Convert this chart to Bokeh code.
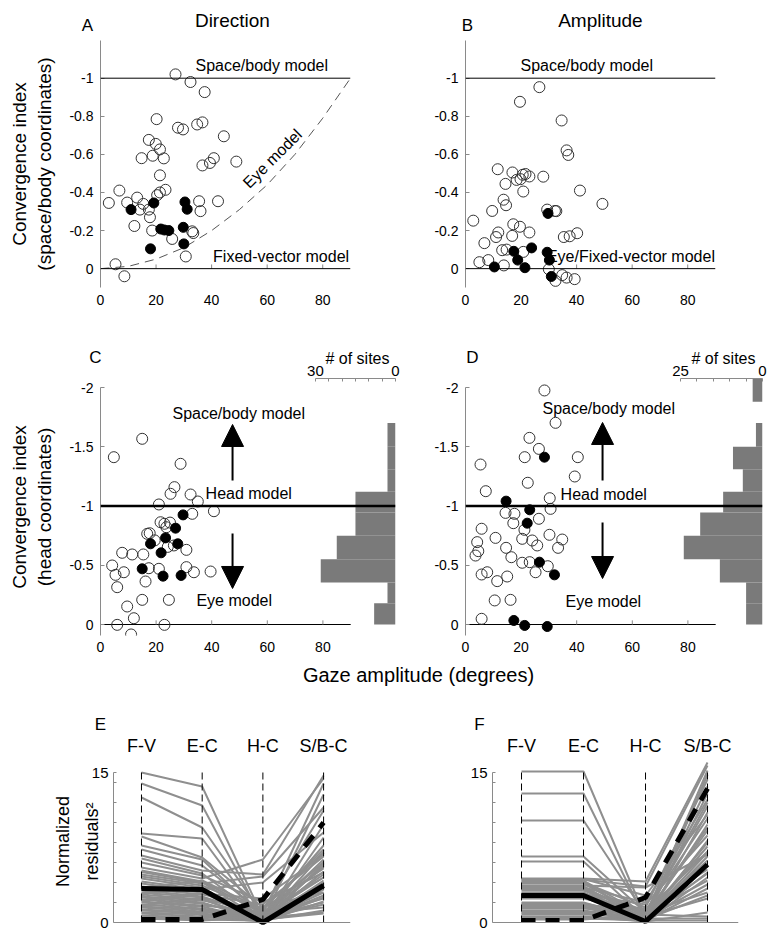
from bokeh.plotting import figure
from bokeh.models import Range1d, LinearAxis, FixedTicker, Span, Label, Arrow, NormalHead
from bokeh.layouts import column, row
from bokeh.embed import file_html
from bokeh.resources import INLINE
from bokeh.core.properties import value

FONT = "Liberation Sans"
AXC = "#8a8a8a"

# ---------------- data ----------------
XTICKS = [0, 20, 40, 60, 80]
XTICK_LABELS = ["0", "20", "40", "60", "80"]
SB_TICKS = [-1, -0.8, -0.6, -0.4, -0.2, 0]
SB_LABELS = ["-1", "-0.8", "-0.6", "-0.4", "-0.2", "0"]
HEAD_TICKS = [-2, -1.5, -1, -0.5, 0]
HEAD_LABELS = ["-2", "-1.5", "-1", "-0.5", "0"]

A_OPEN_X = [3.0, 6.8, 5.4, 8.6, 9.6, 12.2, 13.2, 14.2, 15.4, 17.4, 17.8, 14.8, 17.4, 18.8, 20.2, 19.9, 21.4,
            22.8, 21.4, 20.4, 21.4, 23.4, 18.6, 25.8, 27.9, 29.7, 27.0, 32.4, 37.5, 34.8, 36.7, 44.4, 36.7,
            39.4, 40.8, 48.9, 35.5, 36.0, 42.3, 33.0, 33.4, 30.7]
A_OPEN_Y = [-0.345, -0.41, -0.023, 0.04, -0.347, -0.224, -0.373, -0.31, -0.34, -0.31, -0.27, -0.58, -0.676,
            -0.593, -0.785, -0.655, -0.626, -0.579, -0.49, -0.386, -0.40, -0.414, -0.2, -0.156, -0.74, -0.731,
            -1.02, -0.98, -0.927, -0.757, -0.768, -0.695, -0.542, -0.555, -0.58, -0.562, -0.354, -0.302, -0.354,
            -0.196, -0.187, -0.064]
A_FILL_X = [11.0, 19.2, 18.0, 21.7, 24.6, 23.0, 30.4, 31.2, 29.8, 30.0]
A_FILL_Y = [-0.31, -0.345, -0.104, -0.208, -0.2, -0.203, -0.35, -0.312, -0.217, -0.13]
EYE_X = [0, 10, 20, 30, 40, 50, 60, 70, 80, 90]
EYE_Y = [0, -0.012, -0.05, -0.11, -0.2, -0.31, -0.44, -0.6, -0.79, -1.0]

B_OPEN_X = [2.8, 5.0, 6.8, 8.2, 9.6, 11.0, 11.8, 11.6, 13.2, 13.8, 14.8, 13.7, 14.6, 14.4, 16.9, 18.4, 19.8,
            20.6, 21.6, 23.0, 20.8, 17.2, 19.6, 16.8, 23.0, 20.8, 19.6, 26.6, 28.0, 29.4, 32.2, 32.7, 30.0,
            32.4, 34.8, 36.4, 39.3, 35.4, 40.2, 34.6, 36.4, 37.0, 41.2, 49.3, 37.5]
B_OPEN_Y = [-0.252, -0.034, -0.134, -0.045, -0.303, -0.166, -0.19, -0.522, -0.097, -0.017, -0.1, -0.362,
            -0.333, -0.445, -0.505, -0.466, -0.47, -0.493, -0.497, -0.484, -0.405, -0.233, -0.22, -0.172,
            -0.19, -0.088, -0.876, -0.953, -0.483, -0.31, -0.303, -0.302, 0.003, 0.064, 0.034, 0.047, 0.055,
            -0.166, -0.186, -0.778, -0.621, -0.597, -0.41, -0.34, -0.17]
B_FILL_X = [10.4, 17.4, 18.8, 21.4, 23.8, 29.7, 29.4, 30.2, 30.9]
B_FILL_Y = [-0.009, -0.091, -0.045, -0.005, -0.109, -0.29, -0.086, -0.045, 0.041]

C_OPEN_X = [15.0, 4.8, 28.8, 26.6, 25.2, 32.4, 35.0, 21.0, 40.8, 33.0, 21.6, 23.0, 23.7, 16.8, 17.7, 26.4,
            30.9, 7.8, 11.4, 15.4, 4.2, 5.4, 8.4, 17.4, 21.0, 30.9, 33.6, 39.6, 6.0, 16.2, 15.0, 24.6, 9.6,
            12.0, 6.0, 23.0, 11.0, 19.5, 24.2, 25.0]
C_OPEN_Y = [-1.567, -1.412, -1.356, -1.159, -1.103, -1.097, -1.038, -1.013, -0.956, -0.934, -0.863, -0.85,
            -0.821, -0.765, -0.77, -0.667, -0.63, -0.605, -0.591, -0.591, -0.498, -0.419, -0.441, -0.475,
            -0.47, -0.484, -0.441, -0.447, -0.315, -0.363, -0.208, -0.208, -0.152, -0.053, 0.003, 0.003,
            0.084, -0.71, -0.655, -0.86]
C_FILL_X = [29.7, 27.0, 23.4, 18.0, 27.8, 21.8, 15.0, 22.5, 29.0]
C_FILL_Y = [-0.925, -0.813, -0.731, -0.681, -0.681, -0.605, -0.47, -0.408, -0.414]

D_OPEN_X = [28.4, 32.4, 23.0, 26.4, 21.3, 40.4, 5.4, 39.3, 22.4, 7.3, 30.3, 30.6, 14.4, 17.6, 17.2, 26.4,
            21.2, 5.8, 10.8, 20.4, 24.0, 25.8, 30.2, 34.8, 33.3, 4.2, 4.6, 3.6, 14.6, 16.5, 20.4, 23.1, 29.6,
            25.2, 5.8, 7.8, 11.4, 15.0, 10.5, 16.2, 5.8]
D_OPEN_Y = [-1.975, -1.702, -1.575, -1.482, -1.412, -1.412, -1.35, -1.249, -1.196, -1.125, -1.066, -0.976,
            -0.942, -0.934, -0.855, -0.892, -0.799, -0.808, -0.731, -0.723, -0.709, -0.667, -0.757, -0.717,
            -0.647, -0.695, -0.619, -0.582, -0.647, -0.568, -0.521, -0.526, -0.492, -0.441, -0.422, -0.441,
            -0.366, -0.405, -0.203, -0.208, -0.048]
D_FILL_X = [28.4, 14.6, 23.1, 22.2, 26.6, 32.0, 17.4, 21.3, 29.4]
D_FILL_Y = [-1.412, -1.041, -0.968, -0.855, -0.526, -0.419, -0.034, 0.008, 0.017]

HIST_EDGES = [-2.08, -1.88, -1.70, -1.50, -1.31, -1.12, -0.945, -0.75, -0.55, -0.355, -0.18, 0.0]
C_HIST = [0, 0, 3, 3, 3, 15, 15, 22, 28, 3, 8]
D_HIST = [3, 0, 2, 9, 6, 12, 19, 24, 13, 5, 5]
C_HIST_TICKS = [0, 5, 10, 15, 20, 25, 30]
D_HIST_TICKS = [0, 5, 10, 15, 20, 25]

MODELS = ["F-V", "E-C", "H-C", "S/B-C"]
E_FV = [15.0, 13.9, 12.5, 8.9, 8.6, 7.7, 7.3, 6.7, 6.4, 6.0, 5.5, 5.2, 5.05, 4.8, 4.6, 4.4, 4.1, 3.9, 3.6, 3.4,
        3.2, 3.0, 2.8, 2.6, 2.5, 2.3, 2.1, 2.0, 1.8, 1.6, 1.5, 1.3, 1.2, 1.0, 0.9, 0.7, 0.6, 0.5, 0.4, 2.9, 3.5,
        2.2, 1.7, 3.3, 2.7]
E_EC = [13.6, 11.7, 9.5, 8.4, 6.5, 6.3, 5.7, 5.2, 4.9, 4.7, 4.4, 4.1, 4.0, 3.9, 3.7, 3.5, 3.3, 3.1, 3.0, 2.8,
        2.6, 2.5, 2.3, 2.2, 2.0, 1.9, 1.7, 1.6, 1.4, 1.3, 1.1, 1.0, 0.9, 0.8, 0.6, 0.5, 0.4, 0.3, 0.2, 3.4, 4.2,
        2.9, 2.4, 1.2, 0.7]
E_HC = [0.5, 0.3, 0.8, 0.2, 1.5, 0.6, 1.0, 4.8, 0.4, 2.0, 6.3, 0.9, 0.3, 4.6, 1.2, 0.1, 4.0, 0.7, 0.2, 1.8,
        0.5, 0.9, 0.3, 1.4, 0.2, 0.6, 1.1, 0.1, 0.4, 0.8, 0.2, 1.6, 0.3, 0.7, 0.1, 0.4, 1.0, 0.2, 0.5, 0.0, 1.3,
        2.4, 0.0, 0.6, 0.3]
E_SB = [4.0, 3.0, 5.5, 2.5, 7.0, 4.5, 6.0, 14.7, 3.5, 5.0, 14.4, 13.9, 12.8, 11.5, 11.2, 9.8, 9.0, 7.7, 7.0,
        6.6, 6.3, 6.0, 5.7, 5.4, 5.1, 4.8, 4.5, 4.2, 3.9, 3.6, 3.3, 3.0, 2.7, 2.4, 2.1, 1.8, 1.5, 1.2, 1.0, 8.5,
        7.3, 6.8, 5.9, 2.0, 0.9]
E_SOLID = [3.4, 3.3, 0.0, 3.7]
E_DASH = [0.3, 0.3, 2.3, 10.0]

F_FV = [15.1, 12.9, 10.2, 6.6, 6.1, 4.4, 4.3, 4.2, 4.1, 4.0, 3.9, 3.6, 3.5, 3.4, 3.3, 3.2, 3.0, 2.9, 2.8, 2.6,
        2.5, 2.4, 2.0, 1.9, 1.8, 1.7, 1.6, 1.5, 1.4, 1.2, 1.1, 1.0, 0.9, 0.8, 0.6, 0.5, 0.4, 0.3, 3.7, 4.35]
F_EC = list(F_FV)
F_HC = [0.5, 0.3, 0.8, 1.0, 0.4, 4.1, 3.6, 0.7, 0.2, 1.5, 0.6, 0.3, 2.0, 0.9, 0.1, 1.2, 0.4, 0.8, 1.8, 0.2,
        0.5, 1.1, 0.3, 0.7, 0.2, 1.4, 0.5, 0.1, 0.9, 0.4, 0.2, 1.0, 0.3, 0.6, 0.1, 0.4, 0.2, 0.8, 3.5, 2.7]
F_SB = [8.0, 5.0, 9.5, 12.0, 7.0, 16.0, 15.7, 15.2, 14.8, 14.3, 13.6, 12.9, 12.3, 11.6, 11.0, 10.4, 9.8, 9.2,
        8.7, 8.2, 7.6, 7.1, 6.6, 6.2, 5.7, 5.3, 4.9, 4.5, 4.2, 3.8, 3.4, 3.0, 2.7, 2.4, 1.0, 0.4, 0.2, 0.6,
        6.8, 10.8]
F_SOLID = [2.7, 2.7, 0.1, 5.8]
F_DASH = [0.2, 0.2, 2.5, 13.4]


# ---------------- helpers ----------------
def base_fig(w, h, left, right, top, bottom, xr, yr, x_loc="below"):
    p = figure(width=w, height=h, x_range=xr, y_range=yr, output_backend="svg",
               toolbar_location=None, tools="", x_axis_location=x_loc,
               min_border_left=left, min_border_right=right,
               min_border_top=top, min_border_bottom=bottom)
    p.outline_line_color = None
    p.xgrid.visible = False
    p.ygrid.visible = False
    return p


def style_axis(ax, ticks, labels, size="14px", line=True, tick_in=4):
    ax.ticker = FixedTicker(ticks=ticks)
    ax.major_label_overrides = {t: l for t, l in zip(ticks, labels)}
    ax.axis_line_color = AXC if line else None
    ax.major_tick_line_color = AXC if line else None
    ax.minor_tick_line_color = None
    ax.major_tick_in = tick_in
    ax.major_tick_out = 0
    ax.major_label_text_font = FONT
    ax.major_label_text_font_size = size
    ax.major_label_text_color = "black"
    ax.axis_label_text_font = FONT
    ax.axis_label_text_font_style = "normal"
    ax.axis_label_text_color = "black"


def add_label(p, x, y, text, size="18px", align="center"):
    # placed in the side panel above the frame so that it is not clipped
    p.add_layout(Label(x=x, y=y, text=text, text_font=FONT, text_font_size=size,
                       text_align=align, text_baseline="middle", text_color="black"), "above")


def texts(p, xs, ys, labels, align="left", size="16px", angle=0):
    p.text(x=xs, y=ys, text=labels, text_font=value(FONT), text_font_size=size,
           text_align=align, text_baseline="middle", text_color="black", angle=angle, angle_units="deg")


def scatter_points(p, ox, oy, fx, fy):
    p.scatter(ox, oy, size=11, marker="circle", fill_color=None, line_color="#333333", line_width=1)
    p.scatter(fx, fy, size=10, marker="circle", fill_color="black", line_color="black")


# ---------------- panel geometry (pixels) ----------------
XPPU = 2.78          # px per degree
YPPU_SB = 192.0      # px per unit (top row); value 0 at y=268, frame 38..287
YPPU_H = 118.5       # px per unit (middle row); value 0 at y=624, frame 378..635


def top_panel(fig_w, left, letter, title, letter_px, title_px, ox, oy, fx, fy, eye):
    frame_w = 250
    right = fig_w - left - frame_w
    yr = Range1d(19 / YPPU_SB, -230 / YPPU_SB)
    p = base_fig(fig_w, 308, left, right, 38, 21, Range1d(0, 90), yr)
    ya = p.yaxis[0]
    style_axis(ya, SB_TICKS, SB_LABELS)
    ya.major_label_standoff = 7
    xa = p.xaxis[0]
    style_axis(xa, XTICKS, XTICK_LABELS, line=False)
    xa.major_label_standoff = 7
    p.add_layout(Span(location=-1, dimension="width", line_color="black", line_width=1))
    p.add_layout(Span(location=0, dimension="width", line_color="black", line_width=1))
    p.segment(x0=XTICKS[1:], y0=[0] * 4, x1=XTICKS[1:], y1=[-0.022] * 4, line_color=AXC, line_width=1)
    if eye:
        p.line(EYE_X, EYE_Y, line_color="#555555", line_width=1, line_dash="9 6")
    scatter_points(p, ox, oy, fx, fy)
    add_label(p, letter_px / XPPU, -245 / YPPU_SB, letter, size="17px")
    add_label(p, title_px / XPPU, -250 / YPPU_SB, title, size="19px")
    return p


pA = top_panel(368, 100, "A", "Direction", -13, 132, A_OPEN_X, A_OPEN_Y, A_FILL_X, A_FILL_Y, True)
pA.yaxis[0].axis_label = "Convergence index\n(space/body coordinates)"
pA.yaxis[0].axis_label_text_font_size = "19px"
pA.yaxis[0].axis_label_text_line_height = 1.2
pA.yaxis[0].axis_label_standoff = 11
texts(pA, [34.2], [-1.068], ["Space/body model"])
texts(pA, [89.5], [-0.0625], ["Fixed-vector model"], align="right")
texts(pA, [61.9], [-0.578], ["Eye model"], align="center", angle=45)

pB = top_panel(362, 97, "B", "Amplitude", 2, 135, B_OPEN_X, B_OPEN_Y, B_FILL_X, B_FILL_Y, False)
texts(pB, [19.8], [-1.068], ["Space/body model"])
texts(pB, [89.8], [-0.0625], ["Eye/Fixed-vector model"], align="right")


def mid_panel(fig_w, left, frame_w, hist_ppu, counts, hticks, letter, letter_px, sites_px, ox, oy, fx, fy):
    right = fig_w - left - frame_w
    yr = Range1d(11 / YPPU_H, -246 / YPPU_H)
    p = base_fig(fig_w, 352, left, right, 70, 25, Range1d(0, frame_w / XPPU), yr)
    p.extra_x_ranges = {"hist": Range1d(frame_w / hist_ppu, 0)}
    ya = p.yaxis[0]
    style_axis(ya, HEAD_TICKS, HEAD_LABELS)
    ya.bounds = (-2.0, 11 / YPPU_H)
    ya.major_label_standoff = 7
    xa = p.xaxis[0]
    style_axis(xa, XTICKS, XTICK_LABELS, line=False)
    xa.major_label_standoff = 6
    # histogram of sites
    p.quad(left=[0] * len(counts), right=counts, top=HIST_EDGES[:-1], bottom=HIST_EDGES[1:],
           x_range_name="hist", fill_color="#7a7a7a", line_color=None)
    ha = LinearAxis(x_range_name="hist")
    style_axis(ha, hticks, [str(hticks[0])] + [""] * (len(hticks) - 2) + [str(hticks[-1])], size="15px", tick_in=3)
    ha.bounds = (0, hticks[-1])
    ha.major_label_standoff = 3
    p.add_layout(ha, "above")
    # model lines
    p.add_layout(Span(location=-1, dimension="width", line_color="black", line_width=2.5))
    p.line([0, 90], [0, 0], line_color="black", line_width=1)
    p.segment(x0=XTICKS[1:], y0=[0] * 4, x1=XTICKS[1:], y1=[-0.035] * 4, line_color=AXC, line_width=1)
    scatter_points(p, ox, oy, fx, fy)
    add_label(p, letter_px / XPPU, -267 / YPPU_H, letter, size="17px")
    add_label(p, sites_px / XPPU, -266 / YPPU_H, "# of sites", size="16px")
    return p


pC = mid_panel(403, 100, 295, 2.67, C_HIST, C_HIST_TICKS, "C", -5, 257, C_OPEN_X, C_OPEN_Y, C_FILL_X, C_FILL_Y)
pC.yaxis[0].axis_label = "Convergence index\n(head coordinates)"
pC.yaxis[0].axis_label_text_font_size = "19px"
pC.yaxis[0].axis_label_text_line_height = 1.2
pC.yaxis[0].axis_label_standoff = 11
texts(pC, [25.9, 37.8, 34.5], [-1.781, -1.105, -0.203], ["Space/body model", "Head model", "Eye model"])
pC.add_layout(Arrow(end=NormalHead(size=22, fill_color="black", line_color="black"),
                    x_start=47.5, y_start=-1.215, x_end=47.5, y_end=-1.688, line_width=2))
pC.add_layout(Arrow(end=NormalHead(size=22, fill_color="black", line_color="black"),
                    x_start=47.5, y_start=-0.768, x_end=47.5, y_end=-0.304, line_width=2))

pD = mid_panel(366, 62, 297, 3.28, D_HIST, D_HIST_TICKS, "D", 7, 258, D_OPEN_X, D_OPEN_Y, D_FILL_X, D_FILL_Y)
texts(pD, [27.7, 34.2, 36.0], [-1.823, -1.097, -0.197], ["Space/body model", "Head model", "Eye model"])
pD.add_layout(Arrow(end=NormalHead(size=22, fill_color="black", line_color="black"),
                    x_start=49.3, y_start=-1.215, x_end=49.3, y_end=-1.705, line_width=2))
pD.add_layout(Arrow(end=NormalHead(size=22, fill_color="black", line_color="black"),
                    x_start=49.3, y_start=-0.861, x_end=49.3, y_end=-0.388, line_width=2))

# shared x label
pG = figure(width=769, height=30, x_range=Range1d(0, 769), y_range=Range1d(0, 30), output_backend="svg",
            toolbar_location=None, tools="", x_axis_location=None, y_axis_location=None, min_border=0)
pG.outline_line_color = None
pG.grid.visible = False
texts(pG, [418], [16], ["Gaze amplitude (degrees)"], align="center", size="20px")

# bottom row
YPPU_R = 10.0        # value 0 at y=922, 15 at y=772
COLX = [0, 1, 2, 3]


def res_panel(fig_w, left, frame_w, col_ppu, x0, letter, fv, ec, hc, sb, solid, dash):
    right = fig_w - left - frame_w
    xr = Range1d(x0, x0 + frame_w / col_ppu)
    yr = Range1d(-3 / YPPU_R, 165 / YPPU_R)
    p = base_fig(fig_w, 240, left, right, 67, 5, xr, yr, x_loc="above")
    xa = p.xaxis[0]
    style_axis(xa, COLX, MODELS, size="18px", line=False)
    xa.major_label_standoff = 2
    ya = p.yaxis[0]
    yt = [0, 2, 4, 6, 8, 10, 12, 14, 15]
    style_axis(ya, yt, ["0", "", "", "", "", "", "", "", "15"], size="15px", tick_in=3)
    ya.bounds = (0, 15)
    ya.major_label_standoff = 5
    p.add_layout(Span(location=0, dimension="width", line_color=AXC, line_width=1.2))
    xs = [COLX for _ in fv]
    ys = [[a, b, c, d] for a, b, c, d in zip(fv, ec, hc, sb)]
    p.multi_line(xs=xs, ys=ys, line_color="#8f8f8f", line_width=2)
    p.segment(x0=COLX, y0=[0] * 4, x1=COLX, y1=[15] * 4, line_color="black", line_width=1, line_dash="7 4")
    p.line(COLX, dash, line_color="black", line_width=5, line_dash="14 10")
    p.line(COLX, solid, line_color="black", line_width=5)
    add_label(p, x0 - 13 / col_ppu, 198 / YPPU_R, letter, size="17px")
    return p


pE = res_panel(380, 113, 237, 60.7, -0.461, "E", E_FV, E_EC, E_HC, E_SB, E_SOLID, E_DASH)
pE.yaxis[0].axis_label = "Normalized\nresiduals²"
pE.yaxis[0].axis_label_text_font_size = "18px"
pE.yaxis[0].axis_label_text_line_height = 1.45
pE.yaxis[0].axis_label_standoff = -13
pF = res_panel(389, 112, 246, 62.0, -0.468, "F", F_FV, F_EC, F_HC, F_SB, F_SOLID, F_DASH)

layout = column(row(pA, pB), row(pC, pD), pG, row(pE, pF))
open("out.html", "w").write(file_html(layout, INLINE))
